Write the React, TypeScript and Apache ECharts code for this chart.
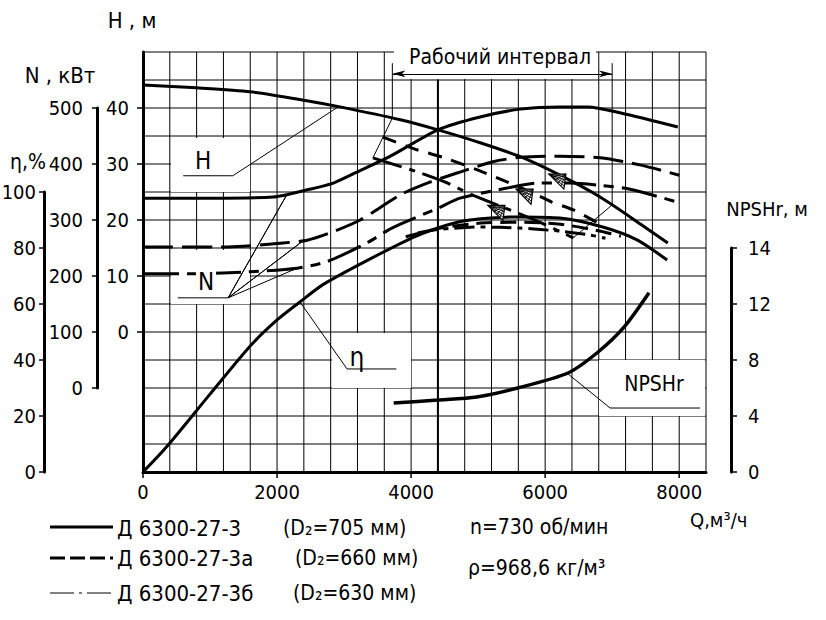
import { useEffect, useRef } from "react";
import * as echarts from "echarts";

const FONT = "'Liberation Sans Narrow', 'DejaVu Sans Condensed', 'Liberation Sans', sans-serif";

// ---- axis tick labels ----
const qLabels = [0, 2000, 4000, 6000, 8000];
const hLabels = [0, 10, 20, 30, 40];
const nLabels = [0, 100, 200, 300, 400, 500];
const etaLabels = [0, 20, 40, 60, 80, 100];
const npshTicks = [0, 4, 8, 12, 16];
const npshTickText = ["0", "4", "8", "12", "14"];

// ---- grid line positions (Q every 400 m3/h, H every 5 m) ----
const qGrid = [0, 400, 800, 1200, 1600, 2000, 2400, 2800, 3200, 3600, 4000, 4400, 4800, 5200, 5600, 6000, 6400, 6800, 7200, 7600, 8000, 8400];
const hGrid = [-25, -20, -15, -10, -5, 0, 5, 10, 15, 20, 25, 30, 35, 40, 45, 50];

// ---- curves: [Q m3/h, value] ----
const h705 = [[0, 44.1], [800, 43.6], [1600, 42.9], [2400, 41.4], [2940, 40.2], [3840, 37.9], [4400, 36.1], [5030, 33.8], [5630, 31.3], [6220, 28.0], [6820, 24.1], [7420, 19.3], [7830, 15.9]];
const h660 = [[3580, 34.8], [4100, 32.5], [4500, 31.1], [5000, 28.9], [5430, 26.8], [5820, 24.8], [6100, 23.2], [6420, 21.8], [6770, 19.6]];
const h630 = [[3430, 31.1], [4090, 28.6], [4500, 26.8], [4910, 24.5], [5370, 22.3], [5920, 19.6], [6420, 16.8]];

const n705 = [[0, 339], [1000, 339], [1940, 341], [2450, 354], [2840, 366], [3200, 386], [3690, 414], [4400, 461], [5030, 484], [5630, 498], [6220, 502], [6640, 502], [7130, 491], [7980, 466]];
const n660 = [[0, 252], [1270, 252], [2090, 259], [2450, 264], [2790, 277], [3240, 300], [3840, 345], [4290, 368], [4740, 386], [5220, 404], [5630, 412], [6220, 414], [6820, 411], [7430, 398], [8000, 380]];
const n630 = [[0, 204], [750, 204], [1520, 207], [2300, 214], [2750, 226], [3340, 259], [3720, 286], [4400, 321], [4730, 339], [5430, 357], [5880, 366], [6370, 366], [6820, 362], [7270, 355], [7970, 332]];

const eta705 = [[0, 0], [360, 9.2], [1000, 27.8], [1600, 45.0], [2000, 54.3], [2340, 60.7], [2690, 67.0], [3340, 75.5], [4050, 84.0], [4540, 88.2], [4880, 90.0], [5620, 91.1], [6220, 90.7], [6860, 87.5], [7370, 82.9], [7820, 75.7]];
const eta660 = [[3920, 84.0], [4440, 87.1], [5040, 88.9], [5630, 89.2], [6230, 88.5], [6830, 86.0], [7130, 84.2]];
const eta630 = [[4100, 85.4], [4440, 86.7], [5040, 87.5], [5630, 87.1], [6230, 86.0], [6680, 84.6], [6900, 83.5]];

const npsh705 = [[3740, 4.93], [4400, 5.14], [4980, 5.36], [5590, 6.0], [6340, 7.07], [6790, 8.57], [7180, 10.36], [7550, 12.8]];

// duty (nominal) points marked by hatched triangles on H curves
const dutyPoints = [[6190, 28.2], [5700, 25.5], [5280, 22.6]];

// working interval
const workMin = 3720;
const workMax = 7000;

const GRID = { left: 143, top: 52, width: 563, height: 420 };
const Q_RANGE = [0, 8400];
const H_RANGE = [-25, 50];
const N_RANGE = [-150, 600];
const ETA_RANGE = [0, 150];
const NPSH_RANGE = [0, 30];

function sub(range: number[], lo: number, hi: number) {
  const span = range[1] - range[0];
  return {
    top: GRID.top + ((range[1] - hi) / span) * GRID.height,
    height: ((hi - lo) / span) * GRID.height,
  };
}

const txt = (x: number, y: number, text: string, size = 22, align = "left", extra: any = {}) => ({
  type: "text",
  x,
  y,
  z: 6,
  style: {
    text,
    fill: "#000",
    font: `${size}px ${FONT}`,
    align,
    verticalAlign: "middle",
    textAlign: align,
    textVerticalAlign: "middle",
    ...extra,
  },
});

const whiteBox = (x: number, y: number, w: number, h: number) => ({
  type: "rect",
  z: 1,
  shape: { x, y, width: w, height: h },
  style: { fill: "#fff", stroke: null },
});

export default function App() {
  const ref = useRef<HTMLDivElement>(null);
  useEffect(() => {
    if (!ref.current) return;
    const chart = echarts.init(ref.current, undefined, { renderer: "svg" });
    const nSub = sub(N_RANGE, 0, 500);
    const eSub = sub(ETA_RANGE, 0, 100);
    const pSub = sub(NPSH_RANGE, 0, 16);

    const lab = { color: "#000", fontSize: 20, fontFamily: FONT };
    const tickStyle = { color: "#000", width: 1.5 };
    const curve = (data: number[][], yIdx: number, type: any, width = 3) => ({
      type: "line",
      xAxisIndex: 0,
      yAxisIndex: yIdx,
      data,
      smooth: 0.25,
      showSymbol: false,
      symbol: "none",
      silent: true,
      lineStyle: { color: "#000", width, type, cap: "butt" },
      z: 3,
    });
    const thin = (data: any[], yIdx: number, extra: any = {}) => ({
      type: "line",
      xAxisIndex: 0,
      yAxisIndex: yIdx,
      data,
      showSymbol: false,
      symbol: "none",
      silent: true,
      lineStyle: { color: "#000", width: 1 },
      z: 2,
      ...extra,
    });
    // segment from a data point to a data point (grid lines) or a fixed-length offset (ticks)
    const segSeries = (data: number[][], to: (v0: number, v1: number) => number[] | null, dx: number, dy: number, width: number, z: number) => ({
      type: "custom",
      xAxisIndex: 0,
      yAxisIndex: 0,
      silent: true,
      clip: false,
      z,
      data,
      renderItem: (_p: any, api: any) => {
        const v0 = api.value(0);
        const v1 = api.value(1);
        const c = api.coord([v0, v1]);
        const t = to(v0, v1);
        const e = t ? api.coord(t) : [c[0] + dx, c[1] + dy];
        return {
          type: "line",
          shape: { x1: c[0], y1: c[1], x2: e[0], y2: e[1] },
          style: { stroke: "#000", lineWidth: width },
        };
      },
    });

    const option: any = {
      animation: false,
      backgroundColor: "#fff",
      grid: [
        { left: GRID.left, top: GRID.top, width: GRID.width, height: GRID.height },
        { left: 97, width: 1, top: nSub.top, height: nSub.height },
        { left: 43, width: 1, top: eSub.top, height: eSub.height },
        { left: 731, width: 1, top: pSub.top, height: pSub.height },
      ],
      xAxis: [
        {
          gridIndex: 0,
          type: "value",
          min: Q_RANGE[0],
          max: Q_RANGE[1],
          axisLine: { show: true, onZero: false, lineStyle: { color: "#000", width: 3 } },
          axisTick: { show: false },
          axisLabel: {
            ...lab,
            margin: 10,
            customValues: qLabels,
            formatter: (v: number) => (qLabels.includes(v) ? String(v) : ""),
          },
          splitLine: { show: false },
        },
        { gridIndex: 1, type: "value", show: false },
        { gridIndex: 2, type: "value", show: false },
        { gridIndex: 3, type: "value", show: false },
      ],
      yAxis: [
        {
          gridIndex: 0,
          type: "value",
          min: H_RANGE[0],
          max: H_RANGE[1],
          axisLine: { show: true, onZero: false, lineStyle: { color: "#000", width: 3 } },
          axisTick: { show: false },
          axisLabel: {
            ...lab,
            margin: 14,
            customValues: hLabels,
            formatter: (v: number) => (hLabels.includes(v) ? String(v) : ""),
          },
          splitLine: { show: false },
        },
        { gridIndex: 0, type: "value", min: N_RANGE[0], max: N_RANGE[1], show: false },
        { gridIndex: 0, type: "value", min: ETA_RANGE[0], max: ETA_RANGE[1], show: false },
        { gridIndex: 0, type: "value", min: NPSH_RANGE[0], max: NPSH_RANGE[1], show: false },
        {
          gridIndex: 1,
          type: "value",
          min: 0,
          max: 500,
          interval: 100,
          axisLine: { show: true, lineStyle: { color: "#000", width: 3 } },
          axisTick: { show: true, length: 5, lineStyle: tickStyle },
          axisLabel: { ...lab, margin: 14, formatter: (v: number) => (nLabels.includes(v) ? String(v) : "") },
          splitLine: { show: false },
        },
        {
          gridIndex: 2,
          type: "value",
          min: 0,
          max: 100,
          interval: 20,
          axisLine: { show: true, lineStyle: { color: "#000", width: 3 } },
          axisTick: { show: true, length: 5, lineStyle: tickStyle },
          axisLabel: { ...lab, margin: 8, formatter: (v: number) => (etaLabels.includes(v) ? String(v) : "") },
          splitLine: { show: false },
        },
        {
          gridIndex: 3,
          type: "value",
          position: "right",
          min: 0,
          max: 16,
          interval: 4,
          axisLine: { show: true, lineStyle: { color: "#000", width: 3 } },
          axisTick: { show: true, length: 6, lineStyle: tickStyle },
          axisLabel: {
            ...lab,
            margin: 16,
            formatter: (v: number) => npshTickText[npshTicks.indexOf(v)] ?? "",
          },
          splitLine: { show: false },
        },
      ],
      series: [
        // grid lines
        segSeries(qGrid.map((q) => [q, H_RANGE[0]]), (q) => [q, H_RANGE[1]], 0, 0, 1, 0),
        segSeries(hGrid.map((h) => [Q_RANGE[0], h]), (_q, h) => [Q_RANGE[1], h], 0, 0, 1, 0),
        // reference vertical line at Q = 4400
        thin([[4400, H_RANGE[0]], [4400, 45]], 0, { lineStyle: { color: "#000", width: 2 }, z: 1 }),
        curve(h705, 0, "solid"),
        curve(h660, 0, [14, 10]),
        curve(h630, 0, [30, 8, 6, 8]),
        curve(n705, 1, "solid"),
        curve(n660, 1, [30, 9]),
        curve(n630, 1, [36, 8, 10, 8]),
        curve(eta705, 2, "solid"),
        curve(eta660, 2, [16, 8]),
        curve(eta630, 2, [20, 6, 5, 6]),
        curve(npsh705, 3, "solid", 3.5),
        // working interval boundaries
        thin([[workMin, 48], [workMin, 38.2], [3430, 31.1]], 0, {
          markLine: {
            silent: true,
            symbol: ["arrow", "arrow"],
            symbolSize: [5, 13],
            label: { show: false },
            lineStyle: { color: "#000", width: 1, type: "solid" },
            data: [[{ coord: [workMin, 46.1] }, { coord: [workMax, 46.1] }]],
          },
        }),
        thin([[workMax, 48], [workMax, 22.7], [6420, 16.8]], 0),
        // leader lines
        thin([[600, 27.9], [1340, 27.9], [2925, 40.3]], 0),
        thin([[520, 161], [1270, 161], [2150, 346], [1270, 161], [2390, 263], [1270, 161], [2300, 214]], 1),
        thin([[3780, 36.8], [3045, 36.8], [2343, 60.7]], 2),
        thin([[8310, 4.57], [6970, 4.57], [6330, 7.05]], 3),
        // axis ticks at labelled values
        segSeries(qLabels.map((q) => [q, H_RANGE[0]]), () => null, 0, 6, 1.5, 5),
        segSeries(hLabels.map((h) => [Q_RANGE[0], h]), () => null, -6, 0, 1.5, 5),
        // hatched triangles at duty points
        {
          type: "custom",
          xAxisIndex: 0,
          yAxisIndex: 0,
          silent: true,
          z: 4,
          data: dutyPoints,
          renderItem: (_p: any, api: any) => {
            const c = api.coord([api.value(0), api.value(1)]);
            const A = [c[0] - 9, c[1]];
            const B = [c[0] + 8, c[1]];
            const C = [c[0] + 6, c[1] + 15];
            const lerp = (P: number[], Q: number[], t: number) => [P[0] + (Q[0] - P[0]) * t, P[1] + (Q[1] - P[1]) * t];
            const children: any[] = [
              { type: "polygon", shape: { points: [A, B, C] }, style: { fill: "#fff", stroke: "#000", lineWidth: 1.2 } },
            ];
            [0.2, 0.4, 0.6, 0.8].forEach((t) => {
              const p1 = lerp(B, C, t);
              const p2 = lerp(A, C, t);
              children.push({ type: "line", shape: { x1: A[0], y1: A[1], x2: p1[0], y2: p1[1] }, style: { stroke: "#000", lineWidth: 0.9 } });
              children.push({ type: "line", shape: { x1: B[0], y1: B[1], x2: p2[0], y2: p2[1] }, style: { stroke: "#000", lineWidth: 0.9 } });
            });
            return { type: "group", children };
          },
        },
      ],
      graphic: [
        // white label boxes (interrupt the grid)
        whiteBox(171, 138, 79, 54),
        whiteBox(171, 250, 79, 54),
        whiteBox(332, 333, 79, 55),
        whiteBox(599, 360, 106, 56),
        whiteBox(394, 42, 202, 37),
        // axis titles
        txt(132, 20, "H , м", 22, "center"),
        txt(60, 75, "N , кВт", 22, "center"),
        txt(28, 162, "η,%", 21, "center"),
        txt(767, 209, "NPSHr, м", 20, "center"),
        txt(690, 520, "Q,м³/ч", 20, "left"),
        // curve labels
        txt(203, 161, "H", 24, "center"),
        txt(206, 282, "N", 24, "center", { backgroundColor: "#fff", padding: [2, 2] }),
        txt(357, 357, "η", 26, "center"),
        txt(654, 384, "NPSHr", 21, "center"),
        txt(500, 57, "Рабочий интервал", 21, "center"),
        // legend
        { type: "line", z: 6, shape: { x1: 50, y1: 527, x2: 113, y2: 527 }, style: { stroke: "#000", lineWidth: 3 } },
        { type: "line", z: 6, shape: { x1: 50, y1: 558, x2: 113, y2: 558 }, style: { stroke: "#000", lineWidth: 3, lineDash: [15, 5] } },
        { type: "line", z: 6, shape: { x1: 50, y1: 593, x2: 113, y2: 593 }, style: { stroke: "#000", lineWidth: 1, lineDash: [24, 5, 3, 5] } },
        txt(117, 528, "Д 6300-27-3", 22),
        txt(283, 528, "(D₂=705 мм)", 21),
        txt(117, 558, "Д 6300-27-3а", 22),
        txt(295, 558, "(D₂=660 мм)", 21),
        txt(117, 593, "Д 6300-27-3б", 22),
        txt(293, 593, "(D₂=630 мм)", 21),
        txt(470, 527, "n=730 об/мин", 21),
        txt(468, 568, "ρ=968,6 кг/м³", 21),
      ],
    };
    chart.setOption(option);
    return () => chart.dispose();
  }, []);
  return <div ref={ref} style={{ position: "fixed", left: 0, top: 0, width: 826, height: 620, background: "#fff" }} />;
}
